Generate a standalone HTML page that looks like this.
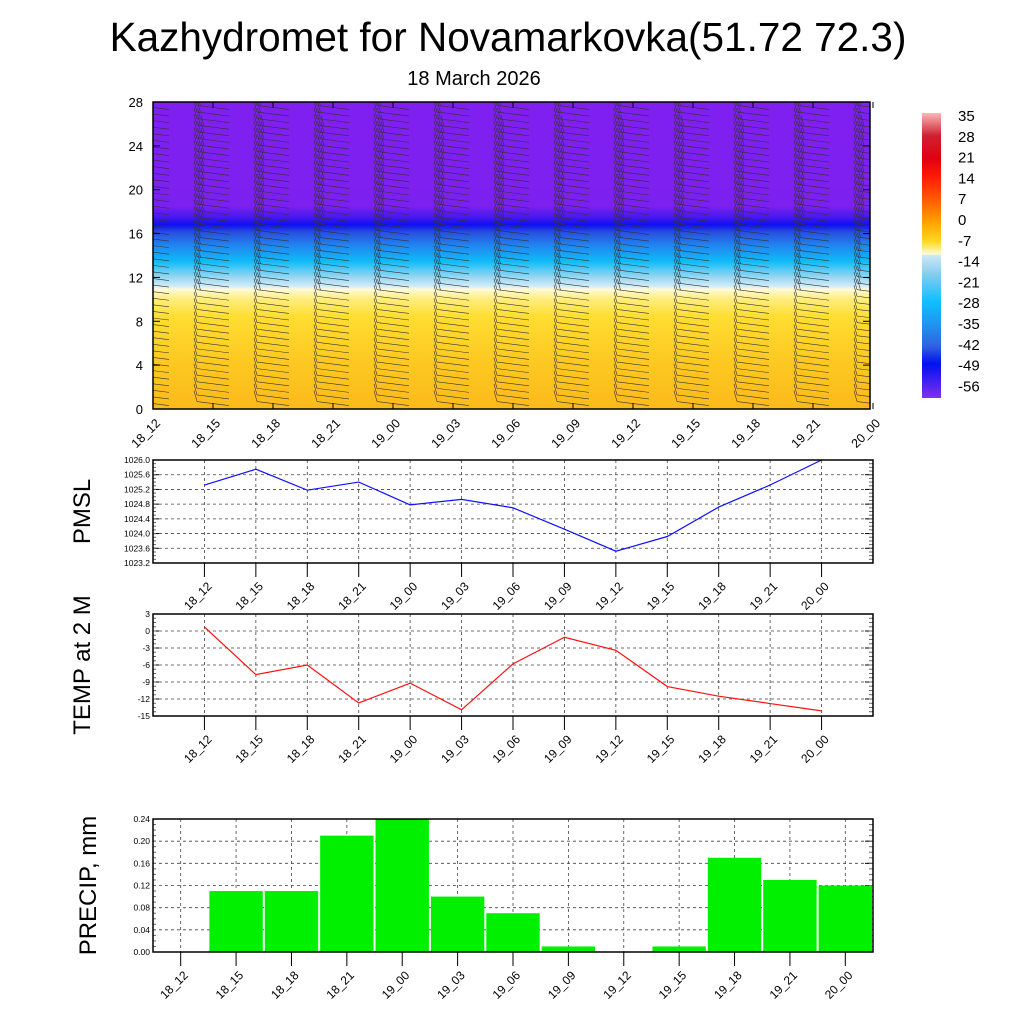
<!DOCTYPE html>
<html><head><meta charset="utf-8"><style>
body{margin:0;background:#fff;}
svg{display:block;font-family:"Liberation Sans",Arial,sans-serif;}
</style></head><body>
<svg id="s" width="1024" height="1024" viewBox="0 0 1024 1024" xmlns="http://www.w3.org/2000/svg">
<defs>
<linearGradient id="tg" x1="0" y1="1" x2="0" y2="0">
<stop offset="0" stop-color="#fcba1a"/>
<stop offset="0.15" stop-color="#fdc822"/>
<stop offset="0.3" stop-color="#fede30"/>
<stop offset="0.36" stop-color="#ffee80"/>
<stop offset="0.39" stop-color="#fffbd8"/>
<stop offset="0.40" stop-color="#d2ecf8"/>
<stop offset="0.43" stop-color="#96d6f2"/>
<stop offset="0.48" stop-color="#10bcf8"/>
<stop offset="0.53" stop-color="#2088f0"/>
<stop offset="0.575" stop-color="#2850e0"/>
<stop offset="0.60" stop-color="#1010f0"/>
<stop offset="0.625" stop-color="#4818f0"/>
<stop offset="0.66" stop-color="#7c20f0"/>
<stop offset="1" stop-color="#8020f0"/>
</linearGradient>
<linearGradient id="cb" x1="0" y1="0" x2="0" y2="1">
<stop offset="0" stop-color="#f8b8b8"/>
<stop offset="0.08" stop-color="#d02030"/>
<stop offset="0.16" stop-color="#e00010"/>
<stop offset="0.22" stop-color="#ff1808"/>
<stop offset="0.31" stop-color="#ff6000"/>
<stop offset="0.38" stop-color="#ffa000"/>
<stop offset="0.45" stop-color="#ffd820"/>
<stop offset="0.495" stop-color="#fffcd0"/>
<stop offset="0.50" stop-color="#cce8f6"/>
<stop offset="0.57" stop-color="#80cbee"/>
<stop offset="0.66" stop-color="#10c0ff"/>
<stop offset="0.75" stop-color="#2090f0"/>
<stop offset="0.82" stop-color="#3060e0"/>
<stop offset="0.88" stop-color="#0010f0"/>
<stop offset="1" stop-color="#8030f0"/>
</linearGradient>
<clipPath id="tc"><rect x="153" y="102" width="717" height="307"/></clipPath>
</defs>
<text x="508" y="51" font-size="40.5" text-anchor="middle">Kazhydromet for Novamarkovka(51.72 72.3)</text>
<text x="474" y="85" font-size="20" text-anchor="middle">18 March 2026</text>
<rect x="153" y="102" width="717" height="307" fill="url(#tg)"/>
<g id="barbs" clip-path="url(#tc)"></g>
<rect x="153" y="102" width="717" height="307" fill="none" stroke="#000" stroke-width="1.5"/>
<rect x="922" y="113" width="19" height="285" fill="url(#cb)"/>
<g id="g" ></g>
</svg>
<script>
const times=["18_12","18_15","18_18","18_21","19_00","19_03","19_06","19_09","19_12","19_15","19_18","19_21","20_00"];
const heightTicks=[0,4,8,12,16,20,24,28];
const barbLevels=[0.5,1.1,1.7,2.3,2.9,3.5,4.1,4.7,5.3,5.9,6.5,7.1,7.7,8.3,8.9,9.5,10.1,10.7,11.3,11.9,12.5,13.1,13.7,14.3,14.9,15.5,16.1,16.7,17.3,17.9,18.5,19.1,19.7,20.3,20.9,21.5,22.1,22.7,23.3,23.9,24.5,25.1,25.7,26.3,26.9,27.5];
const barbFeathers=[1,1,1,1,1,1,1,1,1,1,1,1,1,1,1,1,1,2,2,2,2,2,2,2,2,2,2,3,3,3,3,3,3,3,3,3,3,3,3,3,3,3,3,2,2,2];
const cbLabels=["35","28","21","14","7","0","-7","-14","-21","-28","-35","-42","-49","-56"];
const pmsl=[1025.32,1025.75,1025.18,1025.40,1024.78,1024.93,1024.70,1024.12,1023.52,1023.92,1024.72,1025.32,1026.0];
const pmslTicks=[1023.2,1023.6,1024.0,1024.4,1024.8,1025.2,1025.6,1026.0];
const temp2m=[0.7,-7.7,-6.0,-12.7,-9.2,-13.9,-5.8,-1.1,-3.4,-9.8,-11.5,-12.8,-14.1];
const tempTicks=[-15,-12,-9,-6,-3,0,3];
const precip=[0,0.11,0.11,0.21,0.24,0.10,0.07,0.01,0,0.01,0.17,0.13,0.12];
const precipTicks=[0,0.04,0.08,0.12,0.16,0.20,0.24];

const NS="http://www.w3.org/2000/svg";
const G=document.getElementById('g');
function el(t,a,p){const e=document.createElementNS(NS,t);for(const k in a)e.setAttribute(k,a[k]);(p||G).appendChild(e);return e;}

const tx=i=>153+i*60, ty=h=>409-h/28*307;
const B=document.getElementById('barbs');
times.forEach((t,i)=>{
  barbLevels.forEach((h,j)=>{
    const x=tx(i),y=ty(h);
    const s=el('line',{x1:x-16,y1:y-2,x2:x+16,y2:y+2,stroke:'#333','stroke-width':0.6},B);
    
    
    for(let f=0;f<barbFeathers[j];f++){
      const fx=x-16+f*3.5,fy=y-2+f*0.45;
      const l=el('line',{x1:fx,y1:fy,x2:fx-3,y2:fy-11,stroke:'#333','stroke-width':0.6},B);
      
      
    }
  });
  const tk=el('line',{x1:tx(i),y1:409,x2:tx(i),y2:403,stroke:'#000'});
  
  
  const tk2=el('line',{x1:tx(i),y1:102,x2:tx(i),y2:108,stroke:'#000'});
  
  
  const lb=el('text',{x:0,y:0,'font-size':12.5,'text-anchor':'end',transform:`translate(${tx(i)+8},${424}) rotate(-45)`});
  lb.textContent=t;
  
  
});
heightTicks.forEach(h=>{
  const l=el('text',{x:143,y:ty(h)+5,'font-size':13,'text-anchor':'end'});l.textContent=h;
  
  
  el('line',{x1:153,y1:ty(h),x2:160,y2:ty(h),stroke:'#000'});
  el('line',{x1:870,y1:ty(h),x2:863,y2:ty(h),stroke:'#000'});
});
cbLabels.forEach((c,i)=>{
  const l=el('text',{x:958,y:121+i*20.8,'font-size':15});l.textContent=c;
  
  
});

function linePanel(vals,ticks,top,bot,color,title,tdec,name){
  const x0=153,x1=873,lo=ticks[0],hi=ticks[ticks.length-1];
  const px=i=>x0+(i+1)*(x1-x0)/14, py=v=>bot-(v-lo)/(hi-lo)*(bot-top);
  ticks.forEach(v=>{
    if(v!==lo&&v!==hi)el('line',{x1:x0,y1:py(v),x2:x1,y2:py(v),stroke:'#444','stroke-dasharray':'3,3','stroke-width':0.8});
    const l=el('text',{x:x0-3,y:py(v)+3,'font-size':8.5,'text-anchor':'end'});l.textContent=v.toFixed(tdec);
    
    
    el('line',{x1:x1,y1:py(v),x2:x1-8,y2:py(v),stroke:'#000'});
    el('line',{x1:x0,y1:py(v),x2:x0+6,y2:py(v),stroke:'#000'});
  });
  for(let k=0;k<(ticks.length-1)*4;k++){const v=lo+(hi-lo)*k/((ticks.length-1)*4);
    el('line',{x1:x1,y1:py(v),x2:x1-4,y2:py(v),stroke:'#666'});el('line',{x1:x0,y1:py(v),x2:x0+3,y2:py(v),stroke:'#666'});}
  vals.forEach((v,i)=>{
    el('line',{x1:px(i),y1:top,x2:px(i),y2:bot,stroke:'#444','stroke-dasharray':'3,3','stroke-width':0.8});
    el('line',{x1:px(i),y1:bot,x2:px(i),y2:bot+14,stroke:'#000'});
    const lb=el('text',{x:0,y:0,'font-size':12,'text-anchor':'end',transform:`translate(${px(i)+8},${bot+24}) rotate(-45)`});
    lb.textContent=times[i];
    
    
  });
  const ln=el('polyline',{points:vals.map((v,i)=>px(i)+','+py(v)).join(' '),fill:'none',stroke:color,'stroke-width':1.2});
  
  
  const fr=el('rect',{x:x0,y:top,width:x1-x0,height:bot-top,fill:'none',stroke:'#000','stroke-width':1.5});
  
  
  const tt=el('text',{x:0,y:0,'font-size':24,'text-anchor':'middle',transform:`translate(${x0-63},${(top+bot)/2}) rotate(-90)`});
  tt.textContent=title;
  
  
}
linePanel(pmsl,pmslTicks,460,563,'#1010ff','PMSL',1,'pmsl');
linePanel(temp2m,tempTicks,614,716,'#ff1010','TEMP at 2 M',0,'temp');

(function(){
  const x0=153,x1=873,top=819,bot=952,hi=0.24;
  const w=(x1-x0)/13, px=i=>x0+(i+0.5)*w, py=v=>bot-v/hi*(bot-top);
  precipTicks.forEach(v=>{
    if(v>0&&v<hi)el('line',{x1:x0,y1:py(v),x2:x1,y2:py(v),stroke:'#444','stroke-dasharray':'3,3','stroke-width':0.8});
    const l=el('text',{x:x0-3,y:py(v)+3,'font-size':8.5,'text-anchor':'end'});l.textContent=v.toFixed(2);
    
    
    el('line',{x1:x1,y1:py(v),x2:x1-8,y2:py(v),stroke:'#000'});
  });
  for(let k=0;k<24;k++){const v=hi*k/24;el('line',{x1:x1,y1:py(v),x2:x1-4,y2:py(v),stroke:'#666'});el('line',{x1:x0,y1:py(v),x2:x0+3,y2:py(v),stroke:'#666'});}
  precip.forEach((v,i)=>{
    el('line',{x1:px(i),y1:top,x2:px(i),y2:bot,stroke:'#444','stroke-dasharray':'3,3','stroke-width':0.8});
    if(v>0){const b=el('rect',{x:px(i)-w/2+1,y:py(v),width:w-2,height:bot-py(v),fill:'#00f000'});
      
      }
    el('line',{x1:px(i),y1:bot,x2:px(i),y2:bot+14,stroke:'#000'});
    const lb=el('text',{x:0,y:0,'font-size':12,'text-anchor':'end',transform:`translate(${px(i)+8},${bot+24}) rotate(-45)`});
    lb.textContent=times[i];
    
    
  });
  const fr=el('rect',{x:x0,y:top,width:x1-x0,height:bot-top,fill:'none',stroke:'#000','stroke-width':1.5});
  
  
  const tt=el('text',{x:0,y:0,'font-size':24,'text-anchor':'middle',transform:`translate(${x0-57},${(top+bot)/2}) rotate(-90)`});
  tt.textContent='PRECIP, mm';
  
  
})();
</script>
</body></html>
